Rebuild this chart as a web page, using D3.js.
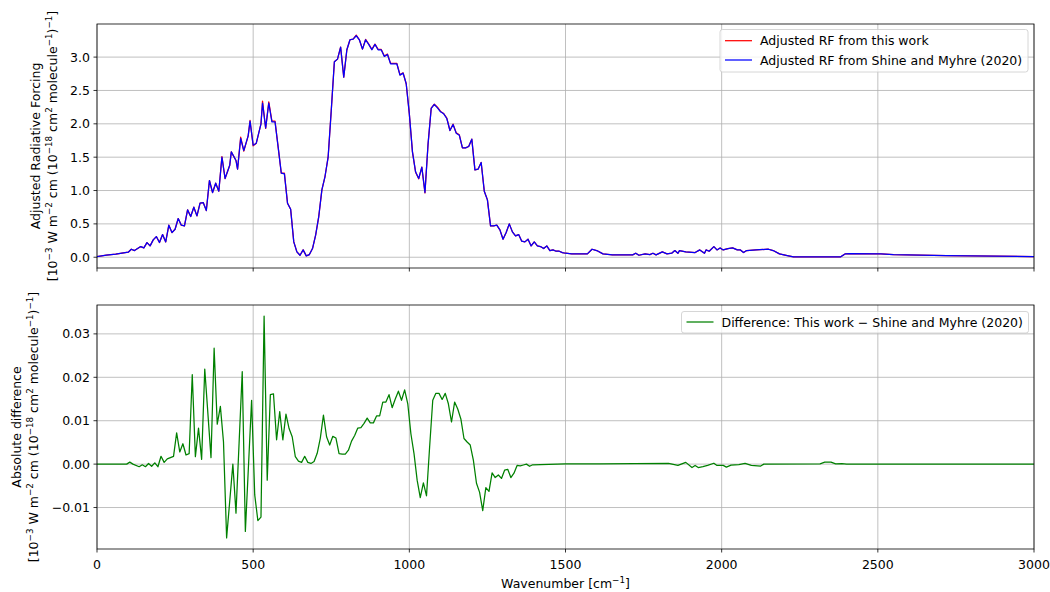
<!DOCTYPE html>
<html><head><meta charset="utf-8">
<script src="https://cdn.jsdelivr.net/npm/d3@7"></script>
<style>
html,body{margin:0;padding:0;background:#fff;}
svg text{font-family:"DejaVu Sans",sans-serif;fill:#000;}
</style></head>
<body><svg id="chart" width="1050" height="592"></svg>
<script>
// ---------------- DATA ----------------
const rfWavenumber = [0,30,60,80,100,110,120,140,150,160,170,180,190,200,210,220,230,240,250,260,270,280,290,300,310,320,330,340,350,360,370,380,390,400,410,425,430,445,450,460,470,484,490,500,510,525,530,540,550,560,570,580,590,600,610,620,630,640,650,660,670,680,690,700,710,720,730,740,750,760,770,780,790,800,810,820,830,840,850,860,870,880,890,900,910,920,930,940,950,960,970,980,990,1000,1010,1020,1030,1040,1050,1060,1070,1080,1090,1100,1110,1120,1130,1140,1150,1160,1170,1180,1190,1200,1210,1220,1230,1240,1250,1260,1270,1280,1290,1300,1310,1320,1330,1340,1350,1360,1370,1380,1390,1400,1410,1420,1430,1440,1450,1460,1470,1480,1490,1500,1520,1540,1570,1585,1600,1620,1650,1715,1725,1735,1755,1770,1780,1790,1810,1825,1840,1850,1860,1865,1885,1915,1930,1945,1950,1960,1975,1985,1995,2005,2020,2035,2050,2060,2070,2080,2110,2150,2165,2185,2210,2230,2380,2395,2410,2510,2550,2720,3000];
const rfShineMyhre = [0.01,0.03,0.045,0.06,0.075,0.12,0.10,0.16,0.14,0.22,0.17,0.26,0.31,0.22,0.34,0.23,0.48,0.37,0.42,0.58,0.48,0.47,0.71,0.61,0.75,0.62,0.81,0.82,0.70,1.15,0.97,1.11,0.99,1.50,1.18,1.38,1.58,1.45,1.32,1.78,1.60,1.82,2.04,1.68,1.71,2.00,2.31,1.94,2.31,2.03,2.03,1.65,1.26,1.25,0.81,0.72,0.23,0.08,0.03,0.11,0.02,0.04,0.13,0.33,0.61,1.01,1.21,1.50,2.20,2.93,2.97,3.15,2.70,3.11,3.26,3.27,3.32,3.26,3.12,3.26,3.19,3.11,3.19,3.11,3.11,3.01,3.04,2.90,2.90,2.90,2.73,2.76,2.60,2.15,1.58,1.28,1.18,1.35,0.97,1.70,2.23,2.29,2.24,2.18,2.15,2.08,1.90,1.99,1.86,1.83,1.64,1.64,1.66,1.77,1.31,1.32,1.42,0.99,0.86,0.47,0.47,0.48,0.41,0.27,0.37,0.50,0.38,0.32,0.34,0.24,0.23,0.27,0.17,0.23,0.17,0.16,0.13,0.17,0.10,0.11,0.09,0.09,0.07,0.06,0.05,0.05,0.05,0.12,0.10,0.05,0.035,0.035,0.06,0.03,0.05,0.04,0.06,0.035,0.08,0.05,0.06,0.10,0.06,0.10,0.08,0.07,0.11,0.06,0.11,0.09,0.16,0.11,0.14,0.11,0.13,0.14,0.11,0.11,0.07,0.10,0.11,0.12,0.10,0.05,0.025,0.005,0.005,0.05,0.055,0.05,0.04,0.025,0.01];
const rfThisWork = [0.01,0.03,0.045,0.06,0.075,0.12,0.10,0.16,0.14,0.22,0.17,0.26,0.31,0.22,0.34,0.23,0.48,0.37,0.42,0.58,0.48,0.47,0.71,0.61,0.75,0.62,0.81,0.82,0.70,1.15,0.97,1.11,0.99,1.51,1.18,1.38,1.58,1.45,1.32,1.80,1.59,1.82,2.05,1.67,1.71,2.00,2.34,1.93,2.33,2.04,2.04,1.65,1.26,1.26,0.81,0.72,0.23,0.08,0.03,0.11,0.02,0.04,0.13,0.33,0.61,1.01,1.21,1.50,2.20,2.93,2.97,3.15,2.70,3.11,3.26,3.27,3.33,3.26,3.12,3.265,3.195,3.115,3.195,3.115,3.115,3.015,3.045,2.905,2.905,2.905,2.735,2.765,2.60,2.15,1.58,1.275,1.175,1.35,0.965,1.70,2.235,2.295,2.25,2.185,2.155,2.085,1.90,1.995,1.865,1.835,1.64,1.64,1.66,1.77,1.31,1.32,1.42,0.99,0.86,0.47,0.47,0.48,0.41,0.27,0.37,0.50,0.38,0.32,0.34,0.24,0.23,0.27,0.17,0.23,0.17,0.16,0.13,0.17,0.10,0.11,0.09,0.09,0.07,0.06,0.05,0.05,0.05,0.12,0.10,0.05,0.035,0.035,0.06,0.03,0.05,0.04,0.06,0.035,0.08,0.05,0.06,0.10,0.06,0.10,0.08,0.07,0.11,0.06,0.11,0.09,0.16,0.11,0.14,0.11,0.13,0.14,0.11,0.11,0.07,0.10,0.11,0.12,0.10,0.05,0.025,0.005,0.005,0.05,0.055,0.05,0.04,0.025,0.01];

const diffWavenumber = [0,95,105,115,135,145,155,165,175,185,195,205,215,225,245,255,265,275,285,295,305,315,325,335,345,365,375,385,395,405,415,435,445,465,475,495,505,515,525,535,545,555,565,575,585,595,605,615,625,635,645,655,665,675,685,695,705,715,725,735,745,755,765,775,785,795,805,815,825,835,845,855,865,875,885,895,905,915,925,935,945,955,965,975,985,995,1005,1015,1025,1035,1045,1055,1065,1075,1085,1095,1105,1115,1125,1135,1145,1155,1165,1175,1185,1195,1205,1215,1225,1235,1245,1255,1265,1275,1285,1295,1305,1315,1325,1335,1345,1355,1365,1375,1385,1395,1420,1500,1610,1830,1860,1885,1905,1915,1925,1940,1955,1975,1985,2005,2015,2030,2055,2075,2095,2125,2135,2315,2330,2350,2365,2385,2400,3000];
// difference in units of 1e-3
const diffMilli = [0,0,0.46,0,-0.6,-0.15,-0.6,0.15,-0.5,0.3,-0.6,1.8,0.4,1.2,1.8,7.2,2.8,4.7,2.1,2.4,20.6,1.7,8.3,1.1,21.9,1.5,26.7,9.2,13.3,5.1,-17.0,0,-11.3,21.3,-15.5,14.7,-7.1,-13.0,-12.2,34.1,-3.7,16.0,16.2,5.6,12.1,5.6,11.5,8.2,6.3,1.7,0.7,0.4,1.8,0.4,0.15,0.6,2.5,6.0,11.3,6.3,4.4,6.4,6.0,2.4,2.3,2.3,3.2,5.3,6.6,8.3,8.4,9.4,10.6,9.5,9.5,11.1,11.1,14.3,14.3,16.0,13.0,15.0,16.8,14.7,17.1,13.9,7.0,2.4,-3.7,-7.7,-4.3,-7.3,4.0,14.7,16.3,16.3,14.9,16.3,13.9,9.7,14.3,12.7,10.4,5.9,5.1,4.4,0.9,-4.4,-6.5,-10.7,-5.4,-6.3,-2.0,-3.1,-2.5,-3.3,-1.4,-1.2,-3.1,-2.1,-0.3,-0.4,-0.2,0,-0.5,-0.15,-0.1,0.05,0.05,0.15,-0.3,0.4,-0.8,-0.3,-0.8,-0.6,-0.3,0.2,-0.3,-0.3,-0.7,-0.25,-0.1,0.15,-0.3,-0.45,0,0.05,0.45,0.45,0.05,0.1,0,0];

const xTicks = [0,500,1000,1500,2000,2500,3000];
const yTicksTop = [0.0,0.5,1.0,1.5,2.0,2.5,3.0];
const yTicksBottom = [-0.01,0.00,0.01,0.02,0.03];
const legendTop = ["Adjusted RF from this work","Adjusted RF from Shine and Myhre (2020)"];
const legendBottom = ["Difference: This work \u2212 Shine and Myhre (2020)"];

// ---------------- DRAW ----------------
const svg = d3.select("#chart");
const FS = 12.5;
const L = 97, R = 1034;
const topP = {t:24, b:268}, botP = {t:305, b:549};

const x = d3.scaleLinear().domain([0,3000]).range([L,R]);
function padDomain(vals){const mn=d3.min(vals),mx=d3.max(vals),p=(mx-mn)*0.05;return [mn-p,mx+p];}
const yTop = d3.scaleLinear().domain(padDomain(rfShineMyhre.concat(rfThisWork))).range([topP.b, topP.t]);
const diffVals = diffMilli.map(v=>v/1000);
const yBot = d3.scaleLinear().domain(padDomain(diffVals)).range([botP.b, botP.t]);

function rich(sel, str){
  const re = /\^\{([^}]*)\}/g; let last=0, m, raised=false;
  while((m=re.exec(str))!==null){
    if(m.index>last){ const t=sel.append("tspan").text(str.slice(last,m.index)); if(raised){t.attr("dy","0.42em");raised=false;} }
    sel.append("tspan").attr("font-size",(FS*0.7)+"px").attr("dy",raised?null:"-0.6em").text(m[1]);
    raised=true; last=re.lastIndex;
  }
  if(last<str.length){ const t=sel.append("tspan").text(str.slice(last)); if(raised){t.attr("dy","0.42em");} }
}

function panel(yS, p, yTicks){
  const g = svg.append("g");
  g.selectAll(".gx").data(xTicks).join("line")
    .attr("x1",d=>x(d)).attr("x2",d=>x(d)).attr("y1",p.t).attr("y2",p.b)
    .attr("stroke","#b0b0b0").attr("stroke-width",0.8);
  g.selectAll(".gy").data(yTicks).join("line")
    .attr("x1",L).attr("x2",R).attr("y1",d=>yS(d)).attr("y2",d=>yS(d))
    .attr("stroke","#b0b0b0").attr("stroke-width",0.8);
  return g;
}
function frame(g, yS, p, yTicks, fmt, showX){
  g.append("rect").attr("x",L).attr("y",p.t).attr("width",R-L).attr("height",p.b-p.t)
    .attr("fill","none").attr("stroke","#000").attr("stroke-width",0.8);
  g.selectAll(".ty").data(yTicks).join("line")
    .attr("x1",L-3.5).attr("x2",L).attr("y1",d=>yS(d)).attr("y2",d=>yS(d)).attr("stroke","#000").attr("stroke-width",0.8);
  g.selectAll(".tyl").data(yTicks).join("text")
    .attr("x",L-7).attr("y",d=>yS(d)).attr("dy","0.36em").attr("text-anchor","end")
    .attr("font-size",FS+"px").text(d=>d3.format(fmt)(d));
  g.selectAll(".tx").data(xTicks).join("line")
    .attr("x1",d=>x(d)).attr("x2",d=>x(d)).attr("y1",p.b).attr("y2",p.b+3.5).attr("stroke","#000").attr("stroke-width",0.8);
  if(showX){
    g.selectAll(".txl").data(xTicks).join("text")
      .attr("x",d=>x(d)).attr("y",p.b+20).attr("text-anchor","middle")
      .attr("font-size",FS+"px").text(d=>d3.format("d")(d));
  }
}
function legend(items, colors, bx, by, bw, bh, rowYs){
  const g = svg.append("g");
  g.append("rect").attr("x",bx).attr("y",by).attr("width",bw).attr("height",bh).attr("rx",2.5)
    .attr("fill","#fff").attr("fill-opacity",0.8).attr("stroke","#cccccc").attr("stroke-width",0.8);
  items.forEach((t,i)=>{
    g.append("line").attr("x1",bx+5).attr("x2",bx+32).attr("y1",rowYs[i]).attr("y2",rowYs[i])
      .attr("stroke",colors[i]).attr("stroke-width",1.25);
    g.append("text").attr("x",bx+40).attr("y",rowYs[i]).attr("dy","0.36em").attr("font-size",FS+"px").text(t);
  });
}

// top panel
const gT = panel(yTop, topP, yTicksTop);
const lineTop = (vals)=>d3.line().x((d,i)=>x(rfWavenumber[i])).y(d=>yTop(d))(vals);
gT.append("path").attr("d",lineTop(rfThisWork)).attr("fill","none").attr("stroke","#ff0000").attr("stroke-width",1.25).attr("stroke-linejoin","round");
gT.append("path").attr("d",lineTop(rfShineMyhre)).attr("fill","none").attr("stroke","#0000ff").attr("stroke-width",1.25).attr("stroke-linejoin","round");
frame(gT, yTop, topP, yTicksTop, ".1f", false);
legend(legendTop, ["#ff0000","#0000ff"], 720, 29.5, 308, 42.5, [40.7, 60]);

// bottom panel
const gB = panel(yBot, botP, yTicksBottom);
const lineBot = d3.line().x((d,i)=>x(diffWavenumber[i])).y(d=>yBot(d));
gB.append("path").attr("d",lineBot(diffVals)).attr("fill","none").attr("stroke","#008000").attr("stroke-width",1.25).attr("stroke-linejoin","round");
frame(gB, yBot, botP, yTicksBottom, ".2f", true);
legend(legendBottom, ["#008000"], 681.5, 311.5, 347, 21.5, [322]);

// axis labels
const xl = svg.append("text").attr("x",(L+R)/2).attr("y",588).attr("text-anchor","middle").attr("font-size",FS+"px");
rich(xl, "Wavenumber [cm^{\u22121}]");

function ylabel(lines, xs, cy){
  lines.forEach((s,i)=>{
    const t = svg.append("text").attr("transform",`translate(${xs[i]},${cy}) rotate(-90)`)
      .attr("text-anchor","middle").attr("font-size",FS+"px");
    rich(t, s);
  });
}
ylabel(["Adjusted Radiative Forcing","[10^{\u22123} W m^{\u22122} cm (10^{\u221218} cm^{2} molecule^{\u22121})^{\u22121}]"],[40,57],(topP.t+topP.b)/2);
ylabel(["Absolute difference","[10^{\u22123} W m^{\u22122} cm (10^{\u221218} cm^{2} molecule^{\u22121})^{\u22121}]"],[21,38],(botP.t+botP.b)/2);
</script></body></html>
